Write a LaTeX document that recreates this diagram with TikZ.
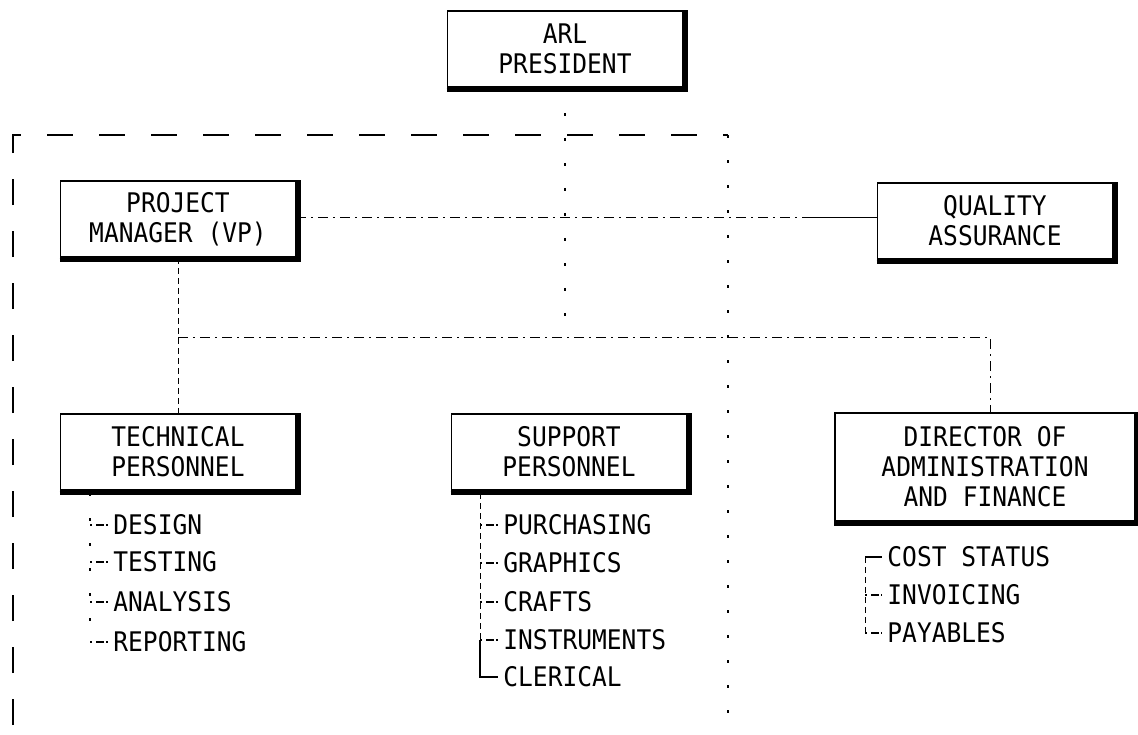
\documentclass[tikz,border=0pt]{standalone}
\usepackage{fontspec}
\newfontfamily\plotter[FakeStretch=0.91]{DejaVu Sans Mono}

\tikzset{
  orgbox/.style={draw, line width=0.9pt, align=center, inner sep=0pt,
    font=\plotter\fontsize{13.5}{15}\selectfont,
    minimum width=117.5pt, minimum height=38pt},
  item/.style={anchor=west, inner sep=0pt, font=\plotter\fontsize{13.5}{15}\selectfont},
  shadowline/.style={line width=2.2pt},
  frameline/.style={line width=0.7pt, dash pattern=on 13pt off 13pt},
  sparse/.style={line width=0.7pt, dash pattern=on 1.5pt off 11pt},
  fine/.style={line width=0.5pt, dash pattern=on 3pt off 2pt},
  link/.style={line width=0.5pt, dash pattern=on 5pt off 2.5pt on 1pt off 2.5pt},
  tick/.style={line width=0.6pt, dash pattern=on 1pt off 2pt on 4pt off 1pt},
}

\begin{document}
\begin{tikzpicture}[x=0.5pt,y=-0.5pt]
\useasboundingbox (0,0) rectangle (1138,734);

\node[orgbox] (pres) at (565,49) {ARL\\PRESIDENT};
\node[orgbox] (pm) at (178,219) {PROJECT\\MANAGER (VP)};
\node[orgbox] (qa) at (995,221) {QUALITY\\ASSURANCE};
\node[orgbox] (tech) at (178,452) {TECHNICAL\\PERSONNEL};
\node[orgbox] (supp) at (569,452) {SUPPORT\\PERSONNEL};
\node[orgbox, minimum width=150pt, minimum height=54pt] (dir) at (985,467) {DIRECTOR OF\\ADMINISTRATION\\AND FINANCE};

\foreach \b in {pres,pm,qa,tech,supp,dir}
  \draw[shadowline] ([yshift=-1pt]\b.south west) -- ([shift={(1pt,-1pt)}]\b.south east) -- ([xshift=1pt]\b.north east);

% dashed frame
\coordinate (fbl) at (13,725);
\coordinate (ftl) at (13,135);
\coordinate (ftr) at (728,135);
\coordinate (fbr) at (728,725);
\draw[frameline] (fbl) -- (ftl) -- (ftr);
\draw[sparse] (ftr) -- (fbr);

% bus
\coordinate (busl) at (178,337);
\coordinate (busr) at (990,337);
\coordinate (qajoin) at (810,217);
\draw[sparse] (pres.south) -- (pres.south |- busl);
\draw[link] (pm.east |- qajoin) -- (qajoin);
\draw[line width=0.5pt] (qajoin) -- (qa.west |- qajoin);
\draw[fine] (pm.south) -- (busl) -- (tech.north);
\draw[link] (busl) -- (busr) -- (busr |- dir.north);

\node[item] (design) at (113,525) {DESIGN};
\node[item] (testing) at (113,562) {TESTING};
\node[item] (analysis) at (113,602) {ANALYSIS};
\node[item] (reporting) at (113,642) {REPORTING};

\node[item] (purchasing) at (503,525) {PURCHASING};
\node[item] (graphics) at (503,563) {GRAPHICS};
\node[item] (crafts) at (503,602) {CRAFTS};
\node[item] (instruments) at (503,640) {INSTRUMENTS};
\node[item] (clerical) at (503,677) {CLERICAL};

\node[item] (cost) at (887,557) {COST STATUS};
\node[item] (invoicing) at (887,595) {INVOICING};
\node[item] (payables) at (887,633) {PAYABLES};

\coordinate (ttop) at (90,493);
\coordinate (stop) at (480,493);
\coordinate (dtop) at (865,557);

\draw[sparse] (ttop) -- (ttop |- reporting.west);
\foreach \i in {design,testing,analysis,reporting}
  \draw[tick] (ttop |- \i.west) -- ([xshift=-2.5pt]\i.west);

\draw[fine] (stop) -- (stop |- instruments.west);
\foreach \i in {purchasing,graphics,crafts,instruments}
  \draw[tick] (stop |- \i.west) -- ([xshift=-2.5pt]\i.west);
\draw[line width=0.6pt] (stop |- instruments.west) -- (stop |- clerical.west) -- ([xshift=-2.5pt]clerical.west);

\draw[fine] (dtop) -- (dtop |- payables.west);
\draw[line width=0.6pt] (dtop) -- ([xshift=-2.5pt]cost.west);
\foreach \i in {invoicing,payables}
  \draw[tick] (dtop |- \i.west) -- ([xshift=-2.5pt]\i.west);
\end{tikzpicture}
\end{document}
